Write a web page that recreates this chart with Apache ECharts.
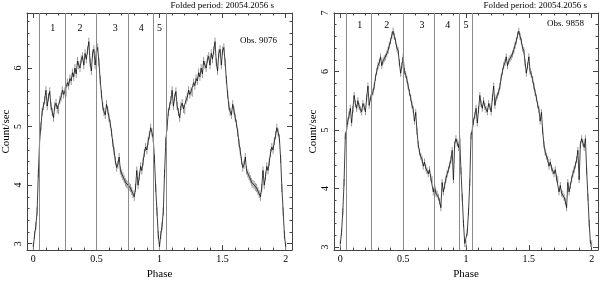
<!DOCTYPE html>
<html><head><meta charset="utf-8">
<script src="https://cdn.jsdelivr.net/npm/echarts@6/dist/echarts.min.js"></script>
<style>html,body{margin:0;padding:0;background:#fff}#c{width:600px;height:285px}</style>
</head><body><div id="c"></div>
<script>
// ---- data ----
const regionBounds = [0.05, 0.25, 0.5, 0.75, 0.95, 1.05];
const regionNames = ['1', '2', '3', '4', '5'];
const regionLabelPhase = [0.155, 0.37, 0.65, 0.855, 1.0];
const xTicks = [0, 0.5, 1, 1.5, 2];
const xMinorTicks = [0,0.1,0.2,0.3,0.4,0.5,0.6,0.7,0.8,0.9,1,1.1,1.2,1.3,1.4,1.5,1.6,1.7,1.8,1.9,2];
const yTicksA = [3, 4, 5, 6];
const yTicksB = [3, 4, 5, 6, 7];
const yMinorA = [3,3.2,3.4,3.6,3.8,4,4.2,4.4,4.6,4.8,5,5.2,5.4,5.6,5.8,6,6.2,6.4,6.6,6.8];
const yMinorB = [3,3.2,3.4,3.6,3.8,4,4.2,4.4,4.6,4.8,5,5.2,5.4,5.6,5.8,6,6.2,6.4,6.6,6.8,7];
const obsA = 'Obs. 9076';
const obsB = 'Obs. 9858';
const periodText = 'Folded period: 20054.2056 s';
// count rate per phase bin (0.00 ... 0.99), one folded cycle
const rateObs9076 = [
 2.95,3.15,3.30,3.55,4.20,4.75,5.00,5.25,5.35,5.45,
 5.62,5.35,5.50,5.60,5.35,5.25,5.15,5.35,5.40,5.30,
 5.28,5.45,5.50,5.62,5.55,5.60,5.58,5.75,5.70,5.82,
 5.78,5.92,5.85,6.00,5.90,6.12,6.05,6.00,6.15,6.20,
 6.05,6.25,6.15,6.30,6.45,6.10,5.95,6.25,6.32,6.05,
 6.30,6.35,6.10,5.80,5.55,5.35,5.25,5.20,5.38,5.28,
 5.15,5.05,4.90,4.72,4.58,4.42,4.30,4.35,4.48,4.25,
 4.20,4.15,4.10,4.05,4.02,4.00,3.97,3.95,3.90,3.85,
 3.80,3.95,4.25,4.00,4.15,4.32,4.25,4.40,4.55,4.65,
 4.60,4.75,4.85,4.98,4.90,4.80,4.45,3.95,3.55,3.15];
const rateObs9858 = [
 3.05,3.25,3.60,4.10,4.90,5.00,5.15,5.25,5.37,5.12,
 5.35,5.59,5.45,5.37,5.50,5.40,5.35,5.31,5.45,5.40,
 5.31,5.55,5.75,5.42,5.55,5.59,5.65,5.75,5.90,6.00,
 6.10,6.15,6.25,6.10,6.18,6.22,6.25,6.30,6.36,6.45,
 6.52,6.62,6.69,6.60,6.52,6.40,6.36,6.15,5.97,6.10,
 6.25,6.00,5.95,5.86,5.75,5.64,5.55,5.43,5.35,5.15,
 5.30,4.98,4.75,4.62,4.55,4.50,4.38,4.45,4.35,4.30,
 4.25,4.32,4.18,4.15,3.94,4.05,3.92,3.90,3.85,3.78,
 3.67,4.10,3.94,4.05,4.16,4.25,4.32,4.40,4.49,4.65,
 4.15,4.75,4.85,4.78,4.70,4.85,4.30,3.85,3.40,3.06];
const errObs9076 = 0.07;
const errObs9858 = 0.06;

// ---- build ----
const FF = 'Liberation Serif';
const frame = '#444';
function twoCycles(rates, err) {
  const n = rates.length, out = [];
  for (let c = 0; c < 2; c++) for (let i = 0; i < n; i++) out.push([c + i / n, rates[i], err]);
  out.push([2, rates[0], err]);
  return out;
}
function xAxesFor(g) {
  const base = {gridIndex: g, type: 'value', min: -0.05, max: 2.05, splitLine: {show: false}};
  return [
    Object.assign({}, base, {position: 'bottom',
      axisLine: {onZero: false, lineStyle: {color: frame, width: 1}},
      axisTick: {inside: true, length: 5, customValues: xTicks, lineStyle: {color: frame}},
      axisLabel: {customValues: xTicks, fontFamily: FF, fontSize: 10, color: '#000', margin: 4},
      name: 'Phase', nameLocation: 'middle', nameGap: 17,
      nameTextStyle: {fontFamily: FF, fontSize: 11, color: '#000'}}),
    Object.assign({}, base, {position: 'bottom', axisLine: {show: false, onZero: false},
      axisTick: {inside: true, length: 2.5, customValues: xMinorTicks, lineStyle: {color: frame}},
      axisLabel: {show: false}}),
    Object.assign({}, base, {position: 'top',
      axisLine: {onZero: false, lineStyle: {color: frame, width: 1}},
      axisTick: {inside: true, length: 5, customValues: xTicks, lineStyle: {color: frame}},
      axisLabel: {show: false}}),
    Object.assign({}, base, {position: 'top', axisLine: {show: false, onZero: false},
      axisTick: {inside: true, length: 2.5, customValues: xMinorTicks, lineStyle: {color: frame}},
      axisLabel: {show: false}})
  ];
}
function yAxesFor(g, min, max, majors, minors) {
  const base = {gridIndex: g, type: 'value', min: min, max: max, splitLine: {show: false}};
  return [
    Object.assign({}, base, {position: 'left',
      axisLine: {onZero: false, lineStyle: {color: frame, width: 1}},
      axisTick: {inside: true, length: 5, customValues: majors, lineStyle: {color: frame}},
      axisLabel: {customValues: majors, fontFamily: FF, fontSize: 10, color: '#000', rotate: 90, margin: 4},
      name: 'Count/sec', nameLocation: 'middle', nameGap: 15, nameRotate: 90,
      nameTextStyle: {fontFamily: FF, fontSize: 11, color: '#000'}}),
    Object.assign({}, base, {position: 'left', axisLine: {show: false, onZero: false},
      axisTick: {inside: true, length: 2.5, customValues: minors, lineStyle: {color: frame}},
      axisLabel: {show: false}}),
    Object.assign({}, base, {position: 'right',
      axisLine: {onZero: false, lineStyle: {color: frame, width: 1}},
      axisTick: {inside: true, length: 5, customValues: majors, lineStyle: {color: frame}},
      axisLabel: {show: false}}),
    Object.assign({}, base, {position: 'right', axisLine: {show: false, onZero: false},
      axisTick: {inside: true, length: 2.5, customValues: minors, lineStyle: {color: frame}},
      axisLabel: {show: false}})
  ];
}
function panelSeries(g, rates, err, labelDy) {
  const data = twoCycles(rates, err);
  const xi = g * 4, yi = g * 4;
  const labels = regionNames.map((nm, i) => [regionLabelPhase[i], nm]);
  return [
    {type: 'custom', xAxisIndex: xi, yAxisIndex: yi, clip: true, silent: true, z: 2,
     data: data,
     renderItem: function (params, api) {
       const x = api.value(0), y = api.value(1), e = api.value(2);
       const p1 = api.coord([x, y - e]), p2 = api.coord([x, y + e]);
       return {type: 'line', shape: {x1: p1[0], y1: p1[1], x2: p2[0], y2: p2[1]},
               style: {stroke: '#9a9a9a', lineWidth: 1}};
     }},
    {type: 'line', xAxisIndex: xi, yAxisIndex: yi, data: data.map(d => [d[0], d[1]]),
     symbol: 'none', z: 3, clip: true,
     lineStyle: {color: '#111', width: 0.8},
     markLine: {silent: true, symbol: ['none', 'none'], label: {show: false},
       lineStyle: {color: '#8c8c8c', type: 'solid', width: 1},
       data: regionBounds.map(v => ({xAxis: v}))}},
    {type: 'custom', xAxisIndex: xi, yAxisIndex: yi, clip: false, silent: true, z: 4,
     data: labels,
     renderItem: function (params, api) {
       const ext = api.coord([api.value(0), 0]);
       const top = params.coordSys.y;
       return {type: 'text', x: ext[0], y: top + labelDy,
               style: {text: labels[params.dataIndex][1], fontFamily: FF, fontSize: 10, fill: '#000',
                       align: 'center', verticalAlign: 'middle'}};
     }}
  ];
}
const chart = echarts.init(document.getElementById('c'), null, {renderer: 'canvas'});
chart.setOption({
  animation: false,
  backgroundColor: '#fff',
  grid: [
    {left: 27, top: 13, width: 265, height: 246},
    {left: 334, top: 13, width: 264, height: 246}
  ],
  title: [
    {text: periodText, right: 326, top: 1, padding: 0, textStyle: {fontFamily: FF, fontSize: 9, fontWeight: 'normal', color: '#000'}},
    {text: periodText, right: 13, top: 1, padding: 0, textStyle: {fontFamily: FF, fontSize: 9, fontWeight: 'normal', color: '#000'}},
    {text: obsA, right: 323, top: 36, padding: 0, textStyle: {fontFamily: FF, fontSize: 9, fontWeight: 'normal', color: '#000'}},
    {text: obsB, right: 16, top: 19, padding: 0, textStyle: {fontFamily: FF, fontSize: 9, fontWeight: 'normal', color: '#000'}}
  ],
  xAxis: xAxesFor(0).concat(xAxesFor(1)),
  yAxis: yAxesFor(0, 2.89, 6.94, yTicksA, yMinorA).concat(yAxesFor(1, 2.945, 7.0, yTicksB, yMinorB)),
  series: panelSeries(0, rateObs9076, errObs9076, 15).concat(panelSeries(1, rateObs9858, errObs9858, 12))
});
</script></body></html>
